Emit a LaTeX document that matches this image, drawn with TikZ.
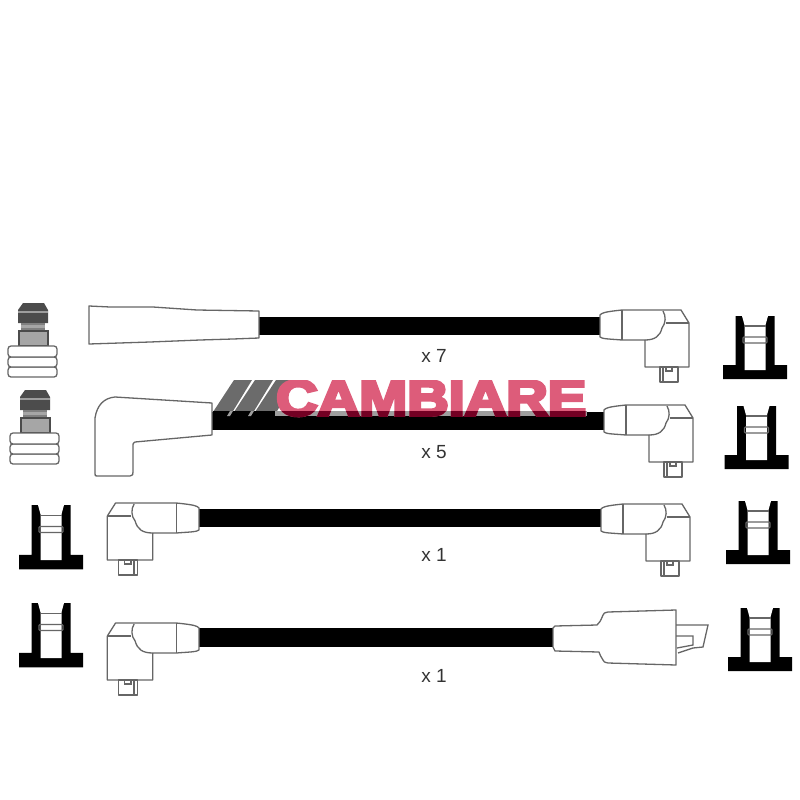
\documentclass[tikz,border=0pt]{standalone}
\usepackage{fontspec}
\setmainfont{Liberation Sans}
\newfontfamily\logofont{Liberation Sans}[BoldFeatures={FakeBold=6}]
\definecolor{outl}{gray}{0.40}
\definecolor{logopink}{RGB}{221,92,122}
\definecolor{logodark}{RGB}{115,0,35}
\definecolor{stripe}{gray}{0.42}
\definecolor{capdark}{gray}{0.30}
\definecolor{bandgray}{gray}{0.62}
\definecolor{neckgray}{gray}{0.50}
\definecolor{bodygray}{gray}{0.65}
\newcommand{\logoword}{\resizebox{310pt}{35pt}{\logofont\bfseries CAMBIARE}}
\tikzset{
  wire/.style={line width=18pt,black},
  shell/.style={draw=outl,line width=1.3pt,fill=white,line join=round},
  edge line/.style={draw=outl,line width=1.3pt},
  qty/.style={font=\fontsize{19}{19}\selectfont,text=black!80,inner sep=0pt},
  logotext/.style={anchor=south west,inner sep=0pt},
  elbow/.pic={
    \path[shell] (0,5) .. controls (2,3) and (3,2) .. (22,0) -- (81,0) -- (89,13) -- (89,57) -- (45,57) -- (45,30)
      -- (22,30) .. controls (10,29) and (2,29) .. (0,27) -- cycle;
    \path[edge line] (22,0) -- (22,30);
    \path[edge line] (45,30) .. controls (55,30) and (60,26) .. (62,18) .. controls (66,13) and (66,6) .. (63,1);
    \path[edge line] (66,13) -- (89,13);
    \path[shell] (60,57) rectangle (78,72);
    \path[edge line] (63,57) -- (63,72);
    \path[edge line] (66,57) -- (66,61) -- (72,61) -- (72,57);
  },
  socket/.pic={
    \fill[black] (-19.5,0) -- (19.5,0) -- (19.5,49) -- (32,49) -- (32,63) -- (-32,63) -- (-32,49) -- (-19.5,49) -- cycle;
    \path[fill=white] (-13,0) -- (13,0) -- (10.5,9) -- (10.5,54) -- (-10.5,54) -- (-10.5,9) -- cycle;
    \path[edge line] (-10.5,10) -- (10.5,10);
    \path[edge line,rounded corners=1pt] (-12,21) -- (12,21) -- (12,27) -- (-12,27) -- cycle;
  },
  plug/.pic={
    \path[fill=capdark] (-10,0) -- (11,0) -- (15,7) -- (15,20) -- (-15,20) -- (-15,7) -- cycle;
    \fill[bandgray] (-15,8) rectangle (15,10);
    \path[fill=neckgray] (-12,20) rectangle (12,28);
    \fill[bodygray] (-12,22) rectangle (12,25);
    \path[fill=bodygray,draw=capdark,line width=1.2pt] (-14,28) rectangle (15,43);
    \path[shell,rounded corners=3pt] (-25,64) rectangle (24,74);
    \path[shell,rounded corners=3pt] (-25,54) rectangle (24,64);
    \path[shell,rounded corners=3pt] (-25,43) rectangle (24,54);
  }
}
\begin{document}
\begin{tikzpicture}[x=1pt,y=-1pt]
\useasboundingbox (0,0) rectangle (800,800);
% wire ends
\coordinate (w1a) at (255,326); \coordinate (w1b) at (604,326);
\coordinate (w2a) at (208,421); \coordinate (w2b) at (608,421);
\coordinate (w3a) at (195,518); \coordinate (w3b) at (605,518);
\coordinate (w4a) at (195,637.5); \coordinate (w4b) at (557,637.5);
\draw[wire] (w1a) -- (w1b);
\draw[wire] (w2a) -- (w2b);
\draw[wire] (w3a) -- (w3b);
\draw[wire,line width=19pt] (w4a) -- (w4b);
% row 1 left: straight boot
\path[shell] (89,306) -- (110,307) -- (153,307) -- (197,310) -- (259,311) -- (259,338) -- (233,339) -- (200,340) -- (150,342) -- (89,344) -- cycle;
% row 2 left: angled boot
\path[shell] (212,403) -- (212,435) -- (135,442) .. controls (133,443) .. (133,447) -- (133,472) .. controls (133,475) .. (130,476) -- (97,476) .. controls (95,476) .. (95,473) -- (95,418) .. controls (97,405) and (104,398) .. (115,397) -- cycle;
% angled boots
\pic at (600,310) {elbow};
\pic at (604,405) {elbow};
\pic at (601,504) {elbow};
\pic[xscale=-1.03] at (199,503) {elbow};
\pic[xscale=-1.03] at (199,623) {elbow};
% row 4 right: straight cap
\path[shell] (553,628) -- (555,626) -- (597,625) .. controls (600,622) .. (603,615) .. controls (604,613) .. (608,612) -- (676,610) -- (676,665) -- (608,663) .. controls (604,662) .. (603,660) .. controls (600,655) .. (599,652) -- (555,651) -- (553,647) -- cycle;
\path[edge line] (676,625) -- (708,625) -- (703,647) -- (693,648);
\path[edge line] (676,636) -- (693,636) -- (693,645) -- (677,648);
\path[edge line] (693,648) -- (678,653);
% sockets
\pic at (755,316) {socket};
\pic at (756.5,406) {socket};
\pic at (758,501) {socket};
\pic at (760,608) {socket};
\pic[yscale=1.02] at (51,505) {socket};
\pic[yscale=1.02] at (51,603) {socket};
% plugs
\pic at (33,303) {plug};
\pic at (35,390) {plug};
% quantities
\node[qty] (q1) at (434,356) {x 7};
\node[qty] (q2) at (434,452) {x 5};
\node[qty] (q3) at (434,555) {x 1};
\node[qty] (q4) at (434,676) {x 1};
% logo
\fill[stripe] (234,380) -- (252,380) -- (230,416) -- (213,412) -- cycle;
\fill[stripe] (255,380) -- (273,380) -- (251,416) -- (234,412) -- cycle;
\fill[stripe] (276,380) -- (296,380) -- (274,416) -- (255,412) -- cycle;
\begin{scope}
  \clip (213,411) rectangle (275,416);
  \fill[black] (213,411) rectangle (275,416);
  \fill[bandgray] (230,411) -- (233,411) -- (230,416) -- (227,416) -- cycle;
  \fill[bandgray] (251,411) -- (254,411) -- (251,416) -- (248,416) -- cycle;
\end{scope}
\fill[bandgray] (275,411) rectangle (587,416);
\begin{scope}
  \clip (270,380) rectangle (590,417);
  \node[logotext,text=logopink] (logo) at (276,416) {\logoword};
\end{scope}
\begin{scope}
  \clip (270,411) rectangle (590,417);
  \node[logotext,text=logodark] (logodim) at (276,416) {\logoword};
\end{scope}
\end{tikzpicture}
\end{document}
